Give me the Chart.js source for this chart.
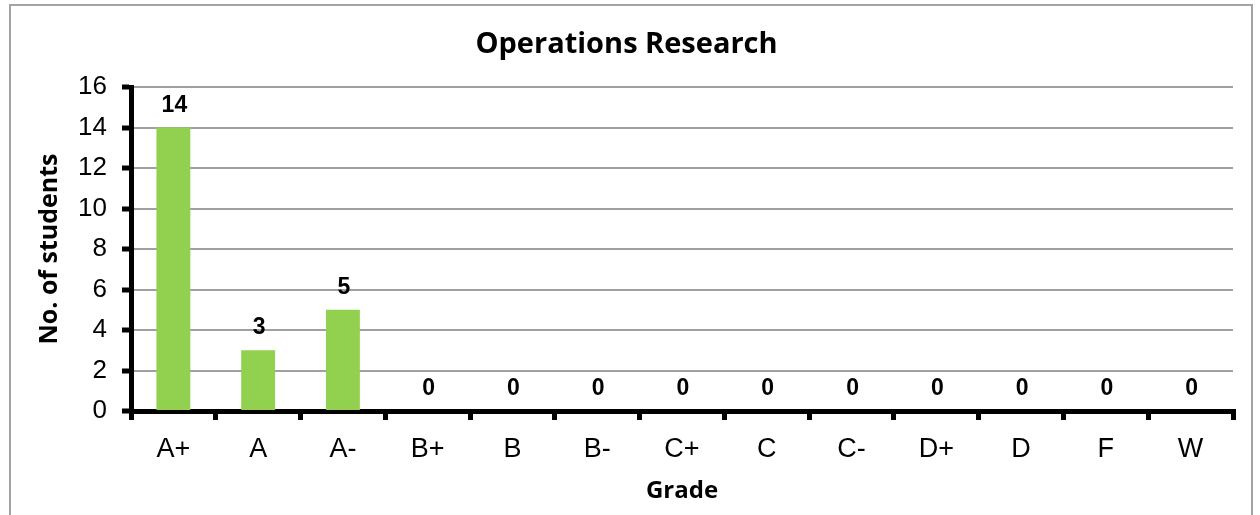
<!DOCTYPE html>
<html>
<head>
<meta charset="utf-8">
<script src="https://cdn.jsdelivr.net/npm/chart.js@4/dist/chart.umd.min.js"></script>
<style>
  html, body { margin: 0; padding: 0; background: #ffffff; }
  #wrap { position: relative; width: 1260px; height: 515px; overflow: hidden; }
  #frame { position: absolute; left: 9px; top: 4px; width: 1244px; height: 540px; border: 2px solid #a3a3a3; box-sizing: border-box; }
  #c { position: absolute; left: 0; top: 0; }
</style>
</head>
<body>
<div id="wrap">
  <div id="frame"></div>
  <canvas id="c" width="1260" height="515"></canvas>
</div>
<script>
const chartTitle = "Operations Research";
const xAxisTitle = "Grade";
const yAxisTitle = "No. of students";
const categories = ["A+", "A", "A-", "B+", "B", "B-", "C+", "C", "C-", "D+", "D", "F", "W"];
const students = [14, 3, 5, 0, 0, 0, 0, 0, 0, 0, 0, 0, 0];
const yTicks = [0, 2, 4, 6, 8, 10, 12, 14, 16];

const valueLabels = {
  id: 'valueLabels',
  afterDatasetsDraw(chart) {
    const ctx = chart.ctx;
    const meta = chart.getDatasetMeta(0);
    ctx.save();
    ctx.font = 'bold 23px "Liberation Sans", Arial, sans-serif';
    ctx.fillStyle = '#000000';
    ctx.textAlign = 'center';
    ctx.textBaseline = 'alphabetic';
    meta.data.forEach((bar, i) => {
      const v = chart.data.datasets[0].data[i];
      ctx.fillText(String(v), bar.x + 1, bar.y - 16);
    });
    ctx.restore();
  }
};

new Chart(document.getElementById('c'), {
  type: 'bar',
  data: {
    labels: categories,
    datasets: [{
      data: students,
      backgroundColor: '#92D050',
      borderWidth: 0,
      categoryPercentage: 1.0,
      barPercentage: 0.40
    }]
  },
  options: {
    responsive: false,
    animation: false,
    events: [],
    layout: { padding: { left: 20, right: 27, top: 0, bottom: 0 } },
    plugins: {
      legend: { display: false },
      tooltip: { enabled: false },
      title: {
        display: true,
        text: chartTitle,
        color: '#000000',
        font: { family: '"Open Sans", sans-serif', size: 29, weight: 'bold', lineHeight: 1.2 },
        padding: { top: 27.6, bottom: 24.6 }
      }
    },
    scales: {
      x: {
        offset: true,
        grid: {
          offset: true,
          drawOnChartArea: false,
          color: '#000000',
          tickColor: '#000000',
          tickLength: 9,
          tickWidth: 5,
          lineWidth: 5
        },
        border: { display: true, color: '#000000', width: 5 },
        ticks: {
          color: '#000000',
          padding: 13,
          maxRotation: 0,
          autoSkip: false,
          font: { family: '"Liberation Sans", Arial, sans-serif', size: 27 }
        },
        title: {
          display: true,
          text: xAxisTitle,
          color: '#000000',
          font: { family: '"Open Sans", sans-serif', size: 24, weight: 'bold', lineHeight: 1.2 },
          padding: { top: 0, bottom: 9.6 }
        },
        afterFit(scale) { scale.height = 515 - 411; }
      },
      y: {
        min: 0,
        max: 16,
        afterBuildTicks(scale) { scale.ticks = yTicks.map(v => ({ value: v })); },
        grid: {
          color: '#a0a0a0',
          lineWidth: 2,
          tickColor: '#000000',
          tickLength: 9,
          tickWidth: 5,
          drawTicks: true
        },
        border: { display: true, color: '#000000', width: 5 },
        ticks: {
          color: '#000000',
          padding: 15,
          font: { family: '"Liberation Sans", Arial, sans-serif', size: 26 }
        },
        title: {
          display: true,
          text: yAxisTitle,
          color: '#000000',
          font: { family: '"Open Sans", sans-serif', size: 25, weight: 'bold', lineHeight: 1.2 },
          padding: { top: 15, bottom: 0 }
        },
        afterFit(scale) { scale.width = 131 - 20; }
      }
    }
  },
  plugins: [valueLabels]
});
</script>
</body>
</html>
